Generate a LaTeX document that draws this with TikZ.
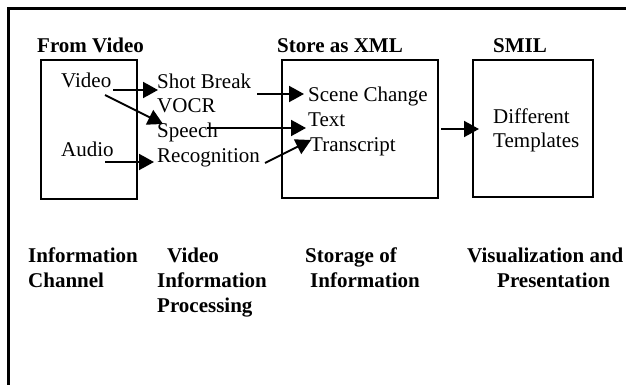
\documentclass[tikz,border=0pt]{standalone}
\usepackage{fontspec}
\setmainfont{Liberation Serif}
\usetikzlibrary{arrows.meta}
\begin{document}
\begin{tikzpicture}[x=1pt,y=-1pt,
  txt/.style={anchor=base west,inner sep=0pt,font=\fontsize{21}{25}\selectfont},
  btxt/.style={txt,font=\fontsize{21}{25}\selectfont\bfseries},
  boxnode/.style={draw,line width=1.6pt,inner sep=0pt},
  arr/.style={line width=2pt,-{Triangle[length=15pt,width=16pt]}}]
\useasboundingbox (0,0) rectangle (626,385);
% outer frame (cut off at right and bottom)
\coordinate (fbl) at (8.5,386);
\coordinate (ftl) at (8.5,8.5);
\coordinate (ftr) at (627,8.5);
\draw[line width=2.5pt] (fbl) -- (ftl) -- (ftr);
% boxes
\node[boxnode,minimum width=96pt,minimum height=139pt] (b1) at (89,129.5) {};
\node[boxnode,minimum width=156pt,minimum height=138pt] (b2) at (360,129) {};
\node[boxnode,minimum width=120pt,minimum height=137pt] (b3) at (533,128.5) {};
% titles
\node[btxt] (t1) at (37,53) {From Video};
\node[btxt] (t2) at (277,53) {Store as XML};
\node[btxt] (t3) at (493,53) {SMIL};
% inner texts
\node[txt] (video) at (61,88) {Video};
\node[txt] (audio) at (61,157) {Audio};
\node[txt] (shot) at (157,89) {Shot Break};
\node[txt] (vocr) at (157,113) {VOCR};
\node[txt] (speech) at (157,137) {Speech};
\node[txt] (recog) at (157,162) {Recognition};
\node[txt] (scene) at (308,102) {Scene Change};
\node[txt] (text) at (308,127) {Text};
\node[txt] (trans) at (310,151) {Transcript};
\node[txt] (diff) at (493,124) {Different};
\node[txt] (templ) at (493,147) {Templates};
% bottom labels
\node[btxt] (l1a) at (28,262) {Information};
\node[btxt] (l1b) at (28,287) {Channel};
\node[btxt] (l2a) at (167,262) {Video};
\node[btxt] (l2b) at (157,287) {Information};
\node[btxt] (l2c) at (157,312) {Processing};
\node[btxt] (l3a) at (305,262) {Storage of};
\node[btxt] (l3b) at (310,287) {Information};
\node[btxt] (l4a) at (467,262) {Visualization and};
\node[btxt] (l4b) at (497,287) {Presentation};
% arrow end points
\coordinate (a1s) at (113,90);  \coordinate (a1e) at (158,90);
\coordinate (a2s) at (105,95);  \coordinate (a2e) at (163,124);
\coordinate (a3s) at (207,128); \coordinate (a3e) at (306,128);
\coordinate (a4s) at (105,162); \coordinate (a4e) at (154,162);
\coordinate (a5s) at (265,163); \coordinate (a5e) at (311,140);
\coordinate (a6s) at (257,94);  \coordinate (a6e) at (304,94);
\coordinate (a7s) at (441,129); \coordinate (a7e) at (479,129);
\draw[arr] (a1s) -- (a1e);
\draw[arr] (a2s) -- (a2e);
\draw[arr] (a3s) -- (a3e);
\draw[arr] (a4s) -- (a4e);
\draw[arr] (a5s) -- (a5e);
\draw[arr] (a6s) -- (a6e);
\draw[arr] (a7s) -- (a7e);
\end{tikzpicture}
\end{document}
